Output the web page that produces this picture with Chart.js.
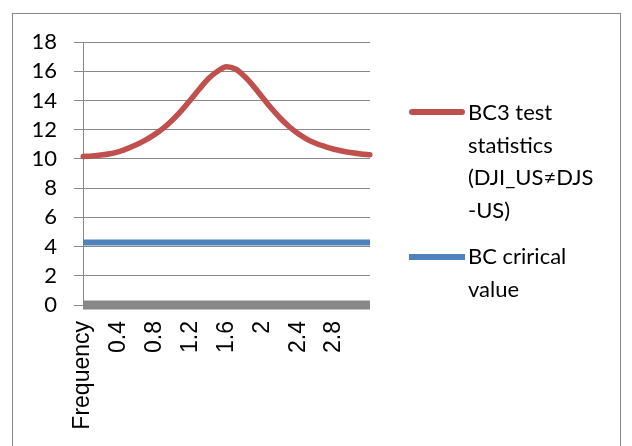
<!DOCTYPE html>
<html>
<head>
<meta charset="utf-8">
<script src="https://cdn.jsdelivr.net/npm/chart.js@4/dist/chart.umd.min.js"></script>
<style>
  body { margin: 0; background: #fff; }
  #wrap { position: relative; width: 632px; height: 446px; overflow: hidden; }
  #frame { position: absolute; left: 12px; top: 13px; width: 607px; height: 470px; border: 1px solid #888; }
  #chart { position: absolute; left: 0; top: 0; }
  .leg-text { position: absolute; left: 468px; font-family: Lato, sans-serif; font-size: 22px; line-height: 32.5px; color: #000; white-space: nowrap; }
  .leg-line { position: absolute; left: 409px; width: 56px; height: 6px; }
</style>
</head>
<body>
<div id="wrap">
  <div id="frame"></div>
  <canvas id="chart" width="632" height="446"></canvas>
  <div id="legend"></div>
</div>
<script>
/* ─── Data ─── */
var freqLabels = ['Frequency', '0.1', '0.2', '0.3', '0.4', '0.5', '0.6', '0.7', '0.8', '0.9', '1',
  '1.1', '1.2', '1.3', '1.4', '1.5', '1.6', '1.7', '1.8', '1.9', '2', '2.1', '2.2', '2.3', '2.4',
  '2.5', '2.6', '2.7', '2.8', '2.9', '3', '3.1', '3.14'];

var bc3Stats = [10.16, 10.2, 10.26, 10.35, 10.5, 10.72, 10.98, 11.3, 11.68, 12.12, 12.68,
  13.32, 14.05, 14.8, 15.5, 16.0, 16.3, 16.15, 15.65, 14.98, 14.22, 13.46, 12.78, 12.2,
  11.72, 11.34, 11.05, 10.84, 10.66, 10.52, 10.42, 10.34, 10.28];

var bcCritical = [4.27, 4.27, 4.27, 4.27, 4.27, 4.27, 4.27, 4.27, 4.27, 4.27, 4.27,
  4.27, 4.27, 4.27, 4.27, 4.27, 4.27, 4.27, 4.27, 4.27, 4.27, 4.27, 4.27, 4.27,
  4.27, 4.27, 4.27, 4.27, 4.27, 4.27, 4.27, 4.27, 4.27];

var baseline = [0, 0, 0, 0, 0, 0, 0, 0, 0, 0, 0, 0, 0, 0, 0, 0, 0, 0, 0, 0, 0, 0, 0, 0,
  0, 0, 0, 0, 0, 0, 0, 0, 0];

var yTicks = [0, 2, 4, 6, 8, 10, 12, 14, 16, 18];

var legendLines = [
  ['BC3 test', 'statistics', '(DJI_US\u2260DJS', '-US)'],
  ['BC crirical', 'value']
];

/* ─── Legend (HTML, so it can wrap like the original) ─── */
var legendItems = [
  { lines: legendLines[0], color: '#C0504D', top: 96, lineY: 109, round: true },
  { lines: legendLines[1], color: '#4F81BD', top: 240, lineY: 254, round: false }
];
var legendHtml = legendItems.map(function (it) {
  return '<div class="leg-line" style="top:' + it.lineY + 'px;background:' + it.color + ';' +
    (it.round ? 'border-radius:3px;' : '') + '"></div>' +
    '<div class="leg-text" style="top:' + it.top + 'px;">' + it.lines.join('<br>') + '</div>';
}).join('');
document.getElementById('legend').innerHTML = legendHtml;

/* ─── Chart ─── */
new Chart(document.getElementById('chart'), {
  type: 'line',
  data: {
    labels: freqLabels,
    datasets: [
      {
        label: 'Baseline',
        data: baseline,
        borderColor: '#878787',
        borderWidth: 9,
        pointRadius: 0,
        clip: 10
      },
      {
        label: legendLines[1].join(' '),
        data: bcCritical,
        borderColor: '#4F81BD',
        borderWidth: 6,
        pointRadius: 0
      },
      {
        label: legendLines[0].join(' '),
        data: bc3Stats,
        borderColor: '#C0504D',
        borderWidth: 5.5,
        borderCapStyle: 'round',
        borderJoinStyle: 'round',
        pointRadius: 0,
        cubicInterpolationMode: 'monotone'
      }
    ]
  },
  options: {
    responsive: false,
    animation: false,
    layout: { padding: { left: 0, right: 262, top: 42, bottom: 0 } },
    plugins: { legend: { display: false }, tooltip: { enabled: false } },
    scales: {
      x: {
        type: 'category',
        offset: false,
        grid: { display: false, drawTicks: false },
        border: { display: false },
        ticks: {
          autoSkip: false,
          minRotation: 90,
          maxRotation: 90,
          padding: 16,
          color: '#000',
          font: { family: '"Liberation Sans", Arial, sans-serif', size: 23 },
          callback: function (v, i) {
            return (i % 4 === 0 && i < freqLabels.length - 1) ? freqLabels[i] : '';
          }
        },
        afterFit: function (scale) { scale.height = 141; }
      },
      y: {
        min: yTicks[0],
        max: yTicks[yTicks.length - 1],
        grid: { color: '#888888', lineWidth: 1, tickLength: 9 },
        border: { color: '#888888', width: 1 },
        ticks: {
          autoSkip: false,
          stepSize: 2,
          padding: 17,
          color: '#000',
          font: { family: 'Lato, sans-serif', size: 22 }
        },
        afterFit: function (scale) { scale.width = 83; }
      }
    }
  }
});
</script>
</body>
</html>
